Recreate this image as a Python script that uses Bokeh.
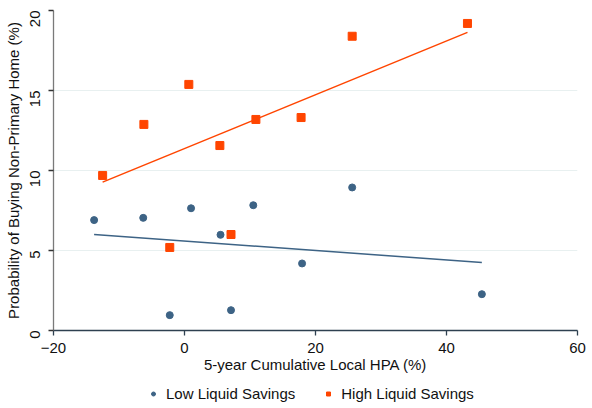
import math
from bokeh.plotting import figure
from bokeh.layouts import column
from bokeh.models import Range1d, Legend, LegendItem, FixedTicker
from bokeh.embed import file_html
from bokeh.resources import INLINE

# Low liquid savings (binned scatter)
low_x = [-13.8, -6.3, 1.0, 5.5, 10.5, -2.25, 7.1, 17.95, 45.4, 25.6]
low_y = [6.9, 7.04, 7.64, 5.98, 7.83, 0.96, 1.27, 4.19, 2.27, 8.94]
# High liquid savings
high_x = [-12.5, -6.2, 0.66, 5.4, 10.9, 17.8, 25.6, 43.2, -2.25, 7.1]
high_y = [9.69, 12.88, 15.38, 11.56, 13.19, 13.31, 18.39, 19.19, 5.19, 6.0]
# Fitted lines (endpoints)
low_fit_x = [-13.8, 45.4]
low_fit_y = [6.0, 4.25]
high_fit_x = [-12.5, 43.2]
high_fit_y = [9.27, 18.63]

x_ticks = [-20, 0, 20, 40, 60]
y_ticks = [0, 5, 10, 15, 20]
series_names = ["Low Liquid Savings", "High Liquid Savings"]

BLUE = "#3d6385"
ORANGE = "#ff4500"
FONT = "Liberation Sans"
FS = "15px"

p = figure(frame_width=524, frame_height=320, output_backend="svg", toolbar_location=None,
           x_range=Range1d(-20, 60), y_range=Range1d(0, 20),
           min_border_left=53, min_border_right=15, min_border_top=10, min_border_bottom=48)
p.outline_line_color = None
p.background_fill_color = "white"

p.xgrid.grid_line_color = None
p.ygrid.grid_line_color = "#e8f0f0"
p.ygrid.grid_line_width = 1.2

p.xaxis.ticker = FixedTicker(ticks=x_ticks)
p.yaxis.ticker = FixedTicker(ticks=y_ticks)
p.xaxis.minor_tick_line_color = None
p.yaxis.minor_tick_line_color = None
p.xaxis.axis_label = "5-year Cumulative Local HPA (%)"
p.yaxis.axis_label = "Probability of Buying Non-Primary Home (%)"
p.yaxis.major_label_orientation = math.pi / 2

for ax in (p.xaxis[0], p.yaxis[0]):
    ax.major_label_text_font = FONT
    ax.major_label_text_font_size = FS
    ax.major_label_text_color = "#111111"
    ax.axis_label_text_font = FONT
    ax.axis_label_text_font_size = FS
    ax.axis_label_text_font_style = "normal"
    ax.axis_label_text_color = "#111111"
    ax.major_tick_out = 5
    ax.major_tick_in = 0
    ax.axis_line_width = 1.3
    ax.major_tick_line_width = 1.3

p.yaxis.axis_line_color = "#7a7a7a"
p.yaxis.major_tick_line_color = "#333333"
p.xaxis.axis_line_color = "#2e4050"
p.xaxis.major_tick_line_color = "#2e4050"
p.xaxis.major_label_standoff = 7
p.xaxis.axis_label_standoff = 0
p.yaxis.major_label_standoff = 14
p.yaxis.axis_label_standoff = 0

p.line(low_fit_x, low_fit_y, line_color=BLUE, line_width=1.5)
p.line(high_fit_x, high_fit_y, line_color=ORANGE, line_width=1.5)
p.scatter(low_x, low_y, marker="circle", size=7, fill_color=BLUE, line_color=BLUE)
p.scatter(high_x, high_y, marker="square", size=8, fill_color=ORANGE, line_color=ORANGE)

# Legend strip below the plot (frame is aligned with the main plot's frame)
lg = figure(width=592, height=30, output_backend="svg", toolbar_location=None,
            x_range=Range1d(-20, 60), y_range=Range1d(0, 20),
            min_border_left=0, min_border_right=0, min_border_top=0, min_border_bottom=0)
lg.axis.visible = False
lg.grid.visible = False
lg.outline_line_color = None
r_low = lg.scatter(low_x, low_y, marker="circle", size=6, fill_color=BLUE, line_color=BLUE,
                   visible=False)
r_high = lg.scatter(high_x, high_y, marker="square", size=7, fill_color=ORANGE, line_color=ORANGE,
                    visible=False)
legend = Legend(items=[LegendItem(label=series_names[0], renderers=[r_low]),
                       LegendItem(label=series_names[1], renderers=[r_high])],
                orientation="horizontal", location=(95, 6),
                label_text_font=FONT, label_text_font_size=FS, label_text_color="#111111",
                border_line_color=None, background_fill_alpha=0,
                inactive_fill_alpha=0,
                glyph_width=10, glyph_height=15, label_height=15,
                spacing=28, label_standoff=8, margin=0, padding=0)
lg.add_layout(legend)

open("out.html", "w").write(file_html(column(p, lg, spacing=0), INLINE))
